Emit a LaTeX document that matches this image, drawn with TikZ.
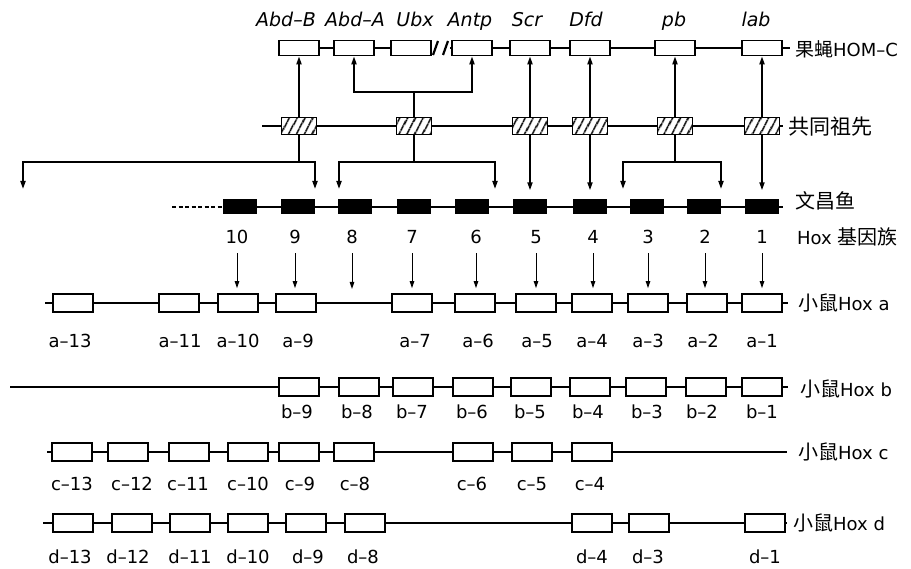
\documentclass[tikz,border=0pt]{standalone}
\usepackage{fontspec}
\setmainfont{DejaVu Sans}
\newfontfamily\cjk{Noto Sans CJK SC}
\usetikzlibrary{arrows.meta,patterns.meta}
\begin{document}
\begin{tikzpicture}[x=1pt,y=-1pt,
  >={Triangle[length=8pt,width=5pt]},
  gene/.style={draw,line width=1.7pt,fill=white,minimum width=40pt,minimum height=18pt,inner sep=0pt},
  flygene/.style={gene,minimum height=15pt},
  ancgene/.style={draw,line width=1.5pt,minimum width=35pt,minimum height=17pt,inner sep=0pt,
    preaction={fill=white},pattern={Lines[angle=62,distance=6.5pt,line width=1.8pt]}},
  amphgene/.style={fill=black,minimum width=34pt,minimum height=15pt,inner sep=0pt},
  chrom/.style={line width=1.4pt},
  thickarrow/.style={->,line width=1.8pt},
  thinarrow/.style={-{Triangle[length=7pt,width=4.5pt]},line width=1pt},
  lab/.style={font=\fontsize{18}{21}\selectfont,inner sep=0pt,anchor=base},
  flylab/.style={lab,font=\fontsize{19}{22}\selectfont\itshape},
  side/.style={font=\fontsize{18}{22}\selectfont,inner sep=0pt,anchor=west}]
\fill[white] (0,0) rectangle (911,569);
\useasboundingbox (0,0) rectangle (911,569);

% ---------------- Drosophila HOM-C ----------------
\coordinate (brkL) at (432,48);
\coordinate (brkR) at (450,48);
\coordinate (flyend) at (790,48);
\draw[chrom] (299,48) -- (brkL);
\draw[chrom] (brkR) -- (flyend);
\foreach \nm/\x in {AbdB/299,AbdA/354,Ubx/411,Antp/472,Scr/530,Dfd/590,pb/675,lab/762}
  \node[flygene] (\nm) at (\x,48) {};
\draw[line width=2.2pt] (433,55) -- (438,41);
\draw[line width=2.2pt] (443,55) -- (448,41);
\foreach \t/\x in {Abd–B/286,Abd–A/355,Ubx/415,Antp/470,Scr/527,Dfd/586,pb/674,lab/756}
  \node[flylab] at (\x,27) {\t};
\node[side] (flyname) at (795,49) {{\cjk\fontsize{19}{22}\selectfont 果蝇}HOM–C};

% ---------------- common ancestor ----------------
\coordinate (ancL) at (262,126);
\coordinate (ancR) at (783,126);
\draw[chrom] (ancL) -- (ancR);
\foreach \i/\x in {1/299,2/414,3/530,4/590,5/675,6/762}
  \node[ancgene] (h\i) at (\x,126) {};
\node[side] (ancname) at (788,127) {\cjk\fontsize{21}{24}\selectfont 共同祖先};

% ancestor -> fly
\draw[thickarrow] (h1.north) -- (AbdB.south);
\coordinate (fkUp) at (414,92);
\draw[line width=1.8pt] (h2.north) -- (fkUp);
\draw[thickarrow] (fkUp) -| (AbdA.south);
\draw[thickarrow] (fkUp) -| (Antp.south);
\draw[thickarrow] (h3.north) -- (Scr.south);
\draw[thickarrow] (h4.north) -- (Dfd.south);
\draw[thickarrow] (h5.north) -- (pb.south);
\draw[thickarrow] (h6.north) -- (lab.south);

% ---------------- amphioxus ----------------
\coordinate (amphL) at (172,207);
\coordinate (amphS) at (223,207);
\coordinate (amphR) at (783,207);
\draw[line width=1.2pt,dash pattern=on 4pt off 2.5pt] (amphL) -- (amphS);
\draw[chrom] (amphS) -- (amphR);
\foreach \n/\x in {10/240,9/298,8/355,7/414,6/472,5/530,4/590,3/647,2/704,1/762}
  \node[amphgene] (A\n) at (\x,207) {};
\node[side] (amphname) at (795,201) {\cjk\fontsize{20}{24}\selectfont 文昌鱼};
\node[side] (amphname2) at (797,237) {Hox {\cjk\fontsize{20}{24}\selectfont 基因族}};

% ancestor -> amphioxus
\coordinate (fkA) at (299,162);
\coordinate (tLost) at (23,189);
\coordinate (t9) at (315,189);
\draw[line width=1.8pt] (h1.south) -- (fkA);
\draw[thickarrow] (fkA) -| (tLost);
\draw[thickarrow] (fkA) -| (t9);
\coordinate (fkB) at (414,162);
\coordinate (t8) at (339,189);
\coordinate (t6) at (495,189);
\draw[line width=1.8pt] (h2.south) -- (fkB);
\draw[thickarrow] (fkB) -| (t8);
\draw[thickarrow] (fkB) -| (t6);
\draw[thickarrow,shorten >=9pt] (h3.south) -- (A5.north);
\draw[thickarrow,shorten >=9pt] (h4.south) -- (h4.south |- A4.north);
\coordinate (fkC) at (675,162);
\coordinate (t3) at (623,189);
\coordinate (t2) at (721,189);
\draw[line width=1.8pt] (h5.south) -- (fkC);
\draw[thickarrow] (fkC) -| (t3);
\draw[thickarrow] (fkC) -| (t2);
\draw[thickarrow,shorten >=9pt] (h6.south) -- (A1.north);

% paralogue group numbers
\foreach \n/\x in {10/237,9/295,8/352,7/412,6/476,5/536,4/593,3/648,2/705,1/762}
  \node[lab] (n\n) at (\x,244) {\n};

% ---------------- mouse Hox a ----------------
\coordinate (aL) at (45,303);
\coordinate (aR) at (788,303);
\draw[chrom] (aL) -- (aR);
\foreach \n/\x in {13/73,11/179,10/238,9/296,7/412,6/475,5/536,4/592,3/648,2/707,1/762}
  \node[gene] (a\n) at (\x,303) {};
\foreach \n/\x in {13/70,11/180,10/238,9/298,7/415,6/478,5/537,4/592,3/648,2/703,1/762}
  \node[lab] at (\x,348) {a–\n};
\node[side] (aname) at (798,303) {{\cjk\fontsize{20}{24}\selectfont 小鼠}Hox a};

% numbers -> Hox a
\coordinate (gap8) at (352,289);
\foreach \n in {10,9,7,6,5,4,3,2,1}
  \draw[thinarrow,shorten <=9pt,shorten >=5pt] (n\n.south) -- (n\n.south |- a\n.north);
\draw[thinarrow,shorten <=9pt] (n8.south) -- (gap8);

% ---------------- mouse Hox b ----------------
\coordinate (bL) at (10,387);
\coordinate (bR) at (788,387);
\draw[chrom] (bL) -- (bR);
\foreach \n/\x in {9/299,8/359,7/413,6/473,5/531,4/590,3/646,2/706,1/762}
  \node[gene] (b\n) at (\x,387) {};
\foreach \n/\x in {9/297,8/357,7/412,6/472,5/530,4/588,3/647,2/702,1/762}
  \node[lab] at (\x,418) {b–\n};
\node[side] (bname) at (800,389) {{\cjk\fontsize{20}{24}\selectfont 小鼠}Hox b};

% ---------------- mouse Hox c ----------------
\coordinate (cL) at (47,452);
\coordinate (cR) at (787,452);
\draw[chrom] (cL) -- (cR);
\foreach \n/\x in {13/72,12/128,11/189,10/248,9/299,8/354,6/473,5/532,4/592}
  \node[gene] (c\n) at (\x,452) {};
\foreach \n/\x in {13/72,12/132,11/188,10/248,9/300,8/355,6/472,5/532,4/590}
  \node[lab] at (\x,490) {c–\n};
\node[side] (cname) at (798,452) {{\cjk\fontsize{20}{24}\selectfont 小鼠}Hox c};

% ---------------- mouse Hox d ----------------
\coordinate (dL) at (43,523);
\coordinate (dR) at (787,523);
\draw[chrom] (dL) -- (dR);
\foreach \n/\x in {13/73,12/132,11/190,10/248,9/306,8/365,4/592,3/649,1/765}
  \node[gene] (d\n) at (\x,523) {};
\foreach \n/\x in {13/70,12/128,11/190,10/248,9/308,8/363,4/592,3/648,1/765}
  \node[lab] at (\x,563) {d–\n};
\node[side] (dname) at (793,523) {{\cjk\fontsize{20}{24}\selectfont 小鼠}Hox d};
\end{tikzpicture}
\end{document}
